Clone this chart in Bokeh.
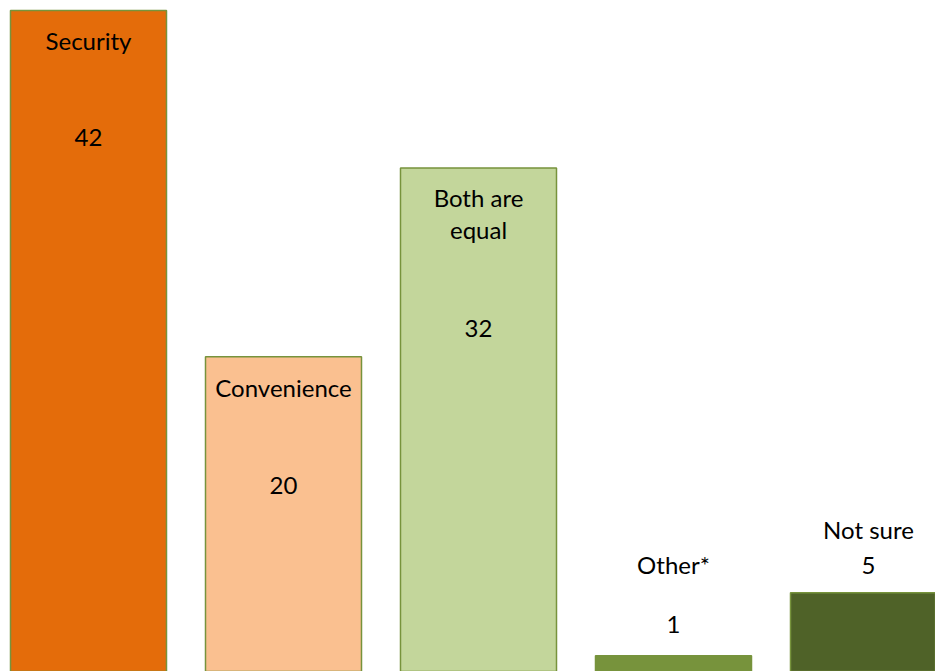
from bokeh.plotting import figure
from bokeh.models import ColumnDataSource, Range1d
from bokeh.core.properties import value
from bokeh.embed import file_html
from bokeh.resources import INLINE

# ---- data ----
categories = ["Security", "Convenience", "Both are equal", "Other*", "Not sure"]
values = [42, 20, 32, 1, 5]
label_lines = [["Security"], ["Convenience"], ["Both are", "equal"], ["Other*"], ["Not sure"]]

# ---- styles / layout ----
colors = ["#E46C0A", "#FAC090", "#C3D69B", "#77933C", "#4F6228"]
outline = "#77933C"
name_offset = [30, 31, 30, -91, -63]     # pixels from bar top (positive = down)
value_offset = [127, 129, 161, -31, -27]
line_gap = 32
FONT = "Lato"
FSIZE = "24px"

xs = list(range(len(categories)))

p = figure(width=935, height=671, output_backend="svg", toolbar_location=None,
           x_range=Range1d(-0.4513, 4.3436), y_range=Range1d(0, 42.635),
           min_border=0, min_border_left=0, min_border_right=0,
           min_border_top=0, min_border_bottom=0)
p.axis.visible = False
p.grid.visible = False
p.outline_line_color = None
p.background_fill_color = "white"
p.border_fill_color = "white"

bars = ColumnDataSource(dict(x=xs, top=values, color=colors))
p.vbar(x="x", top="top", bottom=-2, width=0.8, fill_color="color",
       line_color=outline, line_width=1.5, source=bars)

# category labels
lx, ly, lt, lo = [], [], [], []
for i, lines in enumerate(label_lines):
    for j, t in enumerate(lines):
        lx.append(xs[i]); ly.append(values[i]); lt.append(t)
        lo.append(name_offset[i] + j * line_gap)
p.text(x="x", y="y", text="t", y_offset="o",
       source=ColumnDataSource(dict(x=lx, y=ly, t=lt, o=lo)),
       text_font=value(FONT), text_font_size=value(FSIZE), text_color="black",
       text_align="center", text_baseline="middle")

# value labels
p.text(x="x", y="y", text="t", y_offset="o",
       source=ColumnDataSource(dict(x=xs, y=values, t=[str(v) for v in values],
                                    o=value_offset)),
       text_font=value(FONT), text_font_size=value(FSIZE), text_color="black",
       text_align="center", text_baseline="middle")

open("out.html", "w").write(file_html(p, INLINE))
